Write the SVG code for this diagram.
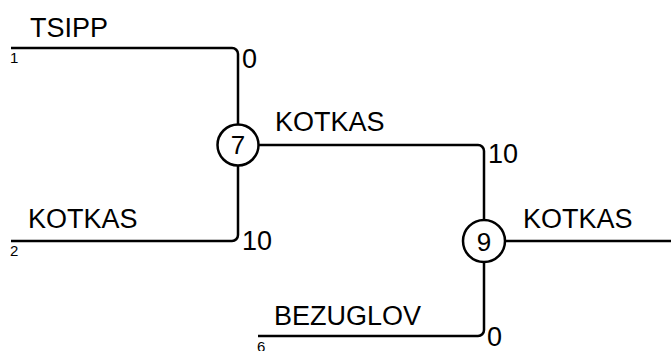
<svg xmlns="http://www.w3.org/2000/svg" width="671" height="351" viewBox="0 0 671 351">
<style>
.ln{fill:none;stroke:#000;stroke-width:2.5}
.nd{fill:#fff;stroke:#000;stroke-width:2.5}
.lb{font-family:"Liberation Sans",Arial,sans-serif;font-size:27px;fill:#000}
.sm{font-family:"Liberation Sans",Arial,sans-serif;font-size:15px;fill:#000}
.ct{font-family:"Liberation Sans",Arial,sans-serif;font-size:26px;fill:#000;text-anchor:middle}
</style>
<rect width="671" height="351" fill="#fff"/>
<g id="connectors">
<path class="ln" d="M11,48 H232 A6,6 0 0 1 238,54 V125"/>
<path class="ln" d="M11,241 H232 A6,6 0 0 0 238,235 V166"/>
<path class="ln" d="M258,145 H478 A6,6 0 0 1 484,151 V220"/>
<path class="ln" d="M258,336 H478 A6,6 0 0 0 484,330 V262"/>
<path class="ln" d="M505,241 H671"/>
</g>
<g id="leaf1">
<text class="lb" x="30" y="37">TSIPP</text>
<text class="sm" x="10" y="63">1</text>
<text class="lb" x="242" y="68">0</text>
</g>
<g id="leaf2">
<text class="lb" x="28" y="228">KOTKAS</text>
<text class="sm" x="10" y="256">2</text>
<text class="lb" x="242" y="250">10</text>
</g>
<g id="leaf6">
<text class="lb" x="274" y="325">BEZUGLOV</text>
<text class="sm" x="257" y="352">6</text>
<text class="lb" x="487" y="346">0</text>
</g>
<g id="node7">
<circle class="nd" cx="238" cy="145" r="20.5"/>
<text class="ct" x="238" y="154">7</text>
<text class="lb" x="275" y="131">KOTKAS</text>
<text class="lb" x="488" y="163">10</text>
</g>
<g id="node9">
<circle class="nd" cx="484" cy="241" r="21"/>
<text class="ct" x="484" y="251">9</text>
<text class="lb" x="523" y="228">KOTKAS</text>
</g>
</svg>
